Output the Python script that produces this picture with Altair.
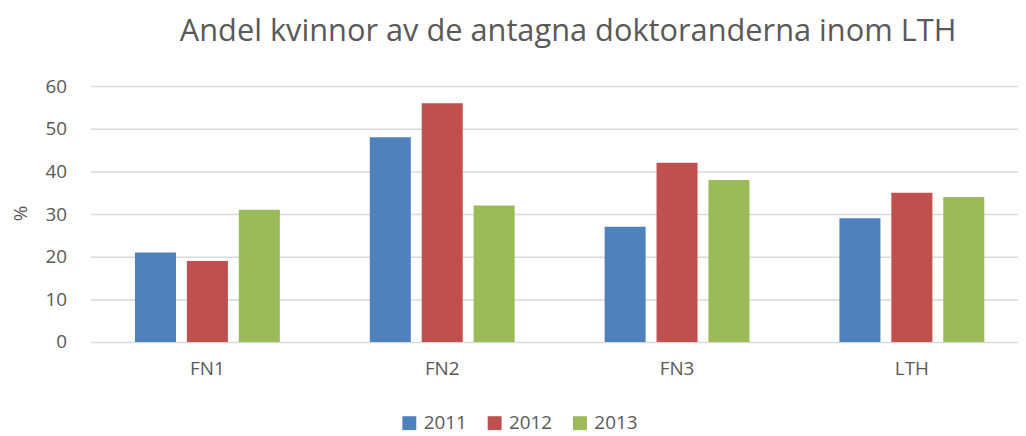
import altair as alt
import pandas as pd

categories = ["FN1", "FN2", "FN3", "LTH"]
years = ["2011", "2012", "2013"]
v2011 = [21, 48, 27, 29]
v2012 = [19, 56, 42, 35]
v2013 = [31, 32, 38, 34]
colors = ["#4F81BD", "#C0504D", "#9BBB59"]
title_text = "Andel kvinnor av de antagna doktoranderna inom LTH"

rows = []
for yr, vals in zip(years, [v2011, v2012, v2013]):
    for c, v in zip(categories, vals):
        rows.append({"category": c, "year": yr, "value": v})
df = pd.DataFrame(rows)

FONT = "Open Sans"
GREY = "#595959"

chart = alt.Chart(df).mark_bar().encode(
    x=alt.X("category:N", sort=categories,
            scale=alt.Scale(range=[0, 946], paddingInner=0.383, paddingOuter=0.19),
            axis=alt.Axis(title=None, labelAngle=0, domain=False, ticks=False, tickSize=0,
                          labelPadding=18, labelFont=FONT, labelFontSize=19, labelColor=GREY)),
    xOffset=alt.XOffset("year:N", sort=years, scale=alt.Scale(paddingInner=0.21, paddingOuter=0)),
    y=alt.Y("value:Q", scale=alt.Scale(domain=[0, 60], nice=False),
            axis=alt.Axis(title="%", values=[0, 10, 20, 30, 40, 50, 60], domain=False, ticks=False,
                          tickSize=0, labelPadding=24, labelFont=FONT, labelFontSize=19,
                          labelColor=GREY, gridColor="#D9D9D9", gridWidth=1.5,
                          titleFont=FONT, titleFontSize=19, titleFontWeight="normal",
                          titleColor=GREY, titleX=-70, titleY=128, titleAngle=-90,
                          titleAlign="center", titleBaseline="middle")),
    color=alt.Color("year:N", sort=years, scale=alt.Scale(domain=years, range=colors),
                    legend=alt.Legend(title=None, orient="none", legendX=312, legendY=330,
                                      direction="horizontal", symbolType="square",
                                      symbolSize=196, symbolStrokeWidth=0, labelFont=FONT,
                                      labelFontSize=19, labelColor=GREY, labelOffset=5,
                                      columnPadding=18, padding=0)),
).properties(
    width=935,
    height=258,
    title=alt.TitleParams(text=title_text, font=FONT, fontSize=31, fontWeight="normal",
                          color=GREY, anchor="middle", frame="group", dx=14, dy=-25),
    autosize=alt.AutoSizeParams(type="none"),
    padding={"left": 83, "top": 77, "right": 0, "bottom": 93},
).configure_view(strokeWidth=0)

chart.save("out.html", embed_options={"renderer": "svg", "actions": False})
